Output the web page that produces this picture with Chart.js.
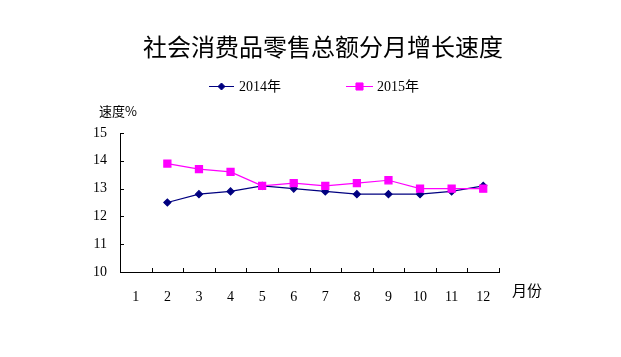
<!DOCTYPE html>
<html>
<head>
<meta charset="utf-8">
<script src="https://cdn.jsdelivr.net/npm/chart.js@4"></script>
<style>
  html, body { margin: 0; padding: 0; background: #fff; }
  #wrap { width: 621px; height: 357px; position: relative; }
</style>
</head>
<body>
<div id="wrap"><canvas id="c" width="621" height="357"></canvas></div>
<script>
const chartTitle = '社会消费品零售总额分月增长速度';
const yAxisTitle = '速度%';
const xAxisTitle = '月份';
const months = ['1','2','3','4','5','6','7','8','9','10','11','12'];
const seriesNames = ['2014年', '2015年'];
const values2014 = [null, 12.5, 12.8, 12.9, 13.1, 13.0, 12.9, 12.8, 12.8, 12.8, 12.9, 13.1];
const values2015 = [null, 13.9, 13.7, 13.6, 13.1, 13.2, 13.1, 13.2, 13.3, 13.0, 13.0, 13.0];
const yTicks = [10, 11, 12, 13, 14, 15];

const serifFont = '"Liberation Serif", "Noto Sans CJK SC", serif';
const cjkFont = '"Noto Sans CJK SC", "Liberation Serif", sans-serif';

const decor = {
  id: 'decor',
  afterDraw(chart) {
    const ctx = chart.ctx;
    const xs = chart.scales.x, ys = chart.scales.y;
    ctx.save();
    // inward tick marks
    ctx.strokeStyle = '#000';
    ctx.lineWidth = 1;
    ctx.beginPath();
    for (let i = 1; i <= months.length; i++) {
      const px = Math.round(xs.getPixelForValue(i - 0.5)) + 0.5;
      ctx.moveTo(px, ys.bottom);
      ctx.lineTo(px, ys.bottom - 4);
    }
    yTicks.forEach(v => {
      const py = Math.round(ys.getPixelForValue(v)) + 0.5;
      ctx.moveTo(xs.left, py);
      ctx.lineTo(xs.left + 4, py);
    });
    ctx.stroke();

    // title
    ctx.fillStyle = '#000';
    ctx.textBaseline = 'middle';
    ctx.textAlign = 'center';
    ctx.font = '24px ' + cjkFont;
    ctx.fillText(chartTitle, 323, 47);

    // axis titles
    ctx.textAlign = 'left';
    ctx.font = '13px ' + cjkFont;
    ctx.fillText(yAxisTitle, 99, 111);
    ctx.font = '15px ' + cjkFont;
    ctx.fillText(xAxisTitle, 512, 290);

    // legend
    const legendPos = [{x0: 209, x1: 234, tx: 239}, {x0: 346, x1: 373, tx: 377}];
    chart.data.datasets.forEach((ds, i) => {
      const p = legendPos[i];
      const y = 86;
      ctx.strokeStyle = ds.borderColor;
      ctx.lineWidth = 1;
      ctx.beginPath();
      ctx.moveTo(p.x0, y + 0.5);
      ctx.lineTo(p.x1, y + 0.5);
      ctx.stroke();
      ctx.fillStyle = ds.pointBackgroundColor;
      ctx.strokeStyle = ds.pointBorderColor;
      Chart.helpers.drawPoint(ctx, {
        pointStyle: ds.pointStyle, radius: ds.pointRadius, rotation: 0,
        borderWidth: 1
      }, (p.x0 + p.x1) / 2, y + 0.5);
      ctx.fillStyle = '#000';
      ctx.font = '14px ' + serifFont;
      ctx.textAlign = 'left';
      ctx.fillText(ds.label, p.tx, y + 1);
    });
    ctx.restore();
  }
};

new Chart(document.getElementById('c'), {
  type: 'line',
  data: {
    labels: months,
    datasets: [
      {
        label: seriesNames[0],
        data: values2014,
        order: 1,
        borderColor: '#000080',
        backgroundColor: '#000080',
        pointBackgroundColor: '#000080',
        pointBorderColor: '#000080',
        pointStyle: 'rectRot',
        pointRadius: 3.5,
        borderWidth: 1.2,
        tension: 0
      },
      {
        label: seriesNames[1],
        data: values2015,
        order: 0,
        borderColor: '#FF00FF',
        backgroundColor: '#FF00FF',
        pointBackgroundColor: '#FF00FF',
        pointBorderColor: '#FF00FF',
        pointStyle: 'rect',
        pointRadius: 5,
        borderWidth: 1.2,
        tension: 0
      }
    ]
  },
  options: {
    responsive: false,
    animation: false,
    devicePixelRatio: 1,
    layout: { padding: { top: 133, right: 122, bottom: 0, left: 0 } },
    plugins: {
      legend: { display: false },
      title: { display: false },
      tooltip: { enabled: false }
    },
    scales: {
      x: {
        offset: true,
        grid: { display: false, offset: true, drawTicks: false },
        border: { display: true, color: '#000', width: 1 },
        ticks: { color: '#000', font: { family: serifFont, size: 14 }, padding: 17, maxRotation: 0, autoSkip: false },
        afterFit(s) { s.height = 85; }
      },
      y: {
        min: 10, max: 15,
        grid: { display: false, drawTicks: false },
        border: { display: true, color: '#000', width: 1 },
        ticks: { stepSize: 1, color: '#000', font: { family: serifFont, size: 14 }, padding: 13 },
        afterFit(s) { s.width = 120; }
      }
    }
  },
  plugins: [decor]
});
</script>
</body>
</html>
